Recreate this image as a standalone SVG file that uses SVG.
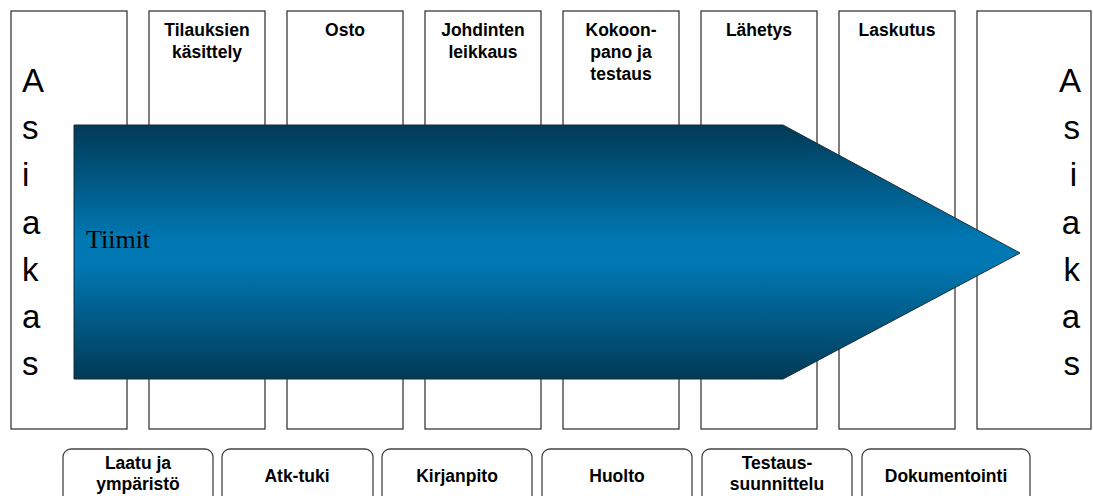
<svg xmlns="http://www.w3.org/2000/svg" width="1093" height="496" viewBox="0 0 1093 496">
  <defs>
    <linearGradient id="arrowGrad" x1="0" y1="0" x2="0" y2="1">
      <stop offset="0" stop-color="#013a56"/>
      <stop offset="0.45" stop-color="#0078b3"/>
      <stop offset="0.55" stop-color="#0078b3"/>
      <stop offset="1" stop-color="#013a56"/>
    </linearGradient>
  </defs>
  <style>
    .box { fill: #ffffff; stroke: #3a3a3a; stroke-width: 1.3; }
    .sup { fill: #ffffff; stroke: #444444; stroke-width: 1.3; }
    .lbl { font-family: "Liberation Sans", Arial, sans-serif; font-weight: bold; font-size: 17.5px; fill: #000000; text-anchor: middle; }
    .big { font-family: "Liberation Sans", Arial, sans-serif; font-size: 33px; fill: #000000; }
    .tiimit { font-family: "Liberation Serif", "Times New Roman", serif; font-size: 26px; fill: #000000; }
  </style>

  <g id="asiakas-left">
    <rect class="box" x="11" y="11" width="116" height="418"/>
    <text class="big" x="22" y="92">A</text>
    <text class="big" x="22" y="139">s</text>
    <text class="big" x="22" y="186">i</text>
    <text class="big" x="22" y="234">a</text>
    <text class="big" x="22" y="281">k</text>
    <text class="big" x="22" y="328">a</text>
    <text class="big" x="22" y="375">s</text>
  </g>
  <g id="tilauksien-kasittely">
    <rect class="box" x="149" y="11" width="116" height="418"/>
    <text class="lbl" x="207" y="36">Tilauksien</text>
    <text class="lbl" x="207" y="58">käsittely</text>
  </g>
  <g id="osto">
    <rect class="box" x="287" y="11" width="116" height="418"/>
    <text class="lbl" x="345" y="36">Osto</text>
  </g>
  <g id="johdinten-leikkaus">
    <rect class="box" x="425" y="11" width="116" height="418"/>
    <text class="lbl" x="483" y="36">Johdinten</text>
    <text class="lbl" x="483" y="58">leikkaus</text>
  </g>
  <g id="kokoonpano-testaus">
    <rect class="box" x="563" y="11" width="116" height="418"/>
    <text class="lbl" x="621" y="36">Kokoon-</text>
    <text class="lbl" x="621" y="58">pano ja</text>
    <text class="lbl" x="621" y="80">testaus</text>
  </g>
  <g id="lahetys">
    <rect class="box" x="701" y="11" width="116" height="418"/>
    <text class="lbl" x="759" y="36">Lähetys</text>
  </g>
  <g id="laskutus">
    <rect class="box" x="839" y="11" width="116" height="418"/>
    <text class="lbl" x="897" y="36">Laskutus</text>
  </g>
  <g id="asiakas-right">
    <rect class="box" x="977" y="11" width="114" height="418"/>
    <g text-anchor="end">
      <text class="big" x="1081" y="92">A</text>
      <text class="big" x="1080" y="139">s</text>
      <text class="big" x="1077" y="186">i</text>
      <text class="big" x="1080" y="234">a</text>
      <text class="big" x="1080" y="281">k</text>
      <text class="big" x="1080" y="328">a</text>
      <text class="big" x="1080" y="375">s</text>
    </g>
  </g>

  <g id="tiimit">
    <polygon points="74,125 783,125 1020,253 783,379 74,379" fill="url(#arrowGrad)" stroke="#1a2b35" stroke-width="1"/>
    <text class="tiimit" x="86" y="248">Tiimit</text>
  </g>

  <g id="laatu-ymparisto">
    <rect class="sup" x="63" y="449" width="150" height="70" rx="8"/>
    <text class="lbl" x="138" y="469">Laatu ja</text>
    <text class="lbl" x="138" y="490">ympäristö</text>
  </g>
  <g id="atk-tuki">
    <rect class="sup" x="222" y="449" width="151" height="70" rx="8"/>
    <text class="lbl" x="297" y="482">Atk-tuki</text>
  </g>
  <g id="kirjanpito">
    <rect class="sup" x="382" y="449" width="150" height="70" rx="8"/>
    <text class="lbl" x="457" y="482">Kirjanpito</text>
  </g>
  <g id="huolto">
    <rect class="sup" x="542" y="449" width="150" height="70" rx="8"/>
    <text class="lbl" x="617" y="482">Huolto</text>
  </g>
  <g id="testaussuunnittelu">
    <rect class="sup" x="702" y="449" width="150" height="70" rx="8"/>
    <text class="lbl" x="777" y="469">Testaus-</text>
    <text class="lbl" x="777" y="490">suunnittelu</text>
  </g>
  <g id="dokumentointi">
    <rect class="sup" x="862" y="449" width="168" height="70" rx="8"/>
    <text class="lbl" x="946" y="482">Dokumentointi</text>
  </g>

  <g id="connectors"/>
</svg>
